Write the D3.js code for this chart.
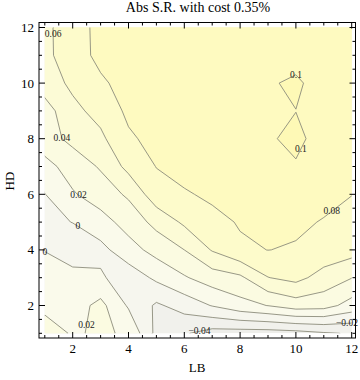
<!DOCTYPE html>
<html><head><meta charset="utf-8">
<script src="https://cdn.jsdelivr.net/npm/d3@7"></script>
<style>body{margin:0;background:#fff}</style>
</head><body>
<svg id="c" width="360" height="380"></svg>
<script>
// ---- data ----
const lbValues = [1,2,3,4,5,6,7,8,9,10,11,12];
const hdValues = [1,2,3,4,5,6,7,8,9,10,11,12];
const levels = [-0.04,-0.02,0,0.02,0.04,0.06,0.08,0.1];
// one array per HD row (HD = 1 ... 12), values for LB = 1 ... 12
const hd1  = [0.03,0.018,0.0225,0.0177,-0.0255,-0.038,-0.048,-0.049,-0.049,-0.047,-0.042,-0.0385];
const hd2  = [0.0148,0.0106,0.0257,-0.0025,-0.023,-0.012,0.001,0.013,0.0205,0.03,0.028,0.012];
const hd3  = [0.015,0.01,0.003,-0.012,0.004,0.018,0.03,0.036,0.0595,0.066,0.052,0.0405];
const hd4  = [-0.001,-0.016,-0.006,0.012,0.027,0.04,0.0615,0.077,0.0802,0.0785,0.073,0.068];
const hd5  = [-0.006,0.0005,0.012,0.028,0.046,0.0635,0.0745,0.0815,0.0835,0.083,0.079,0.075];
const hd6  = [-0.0005,0.018,0.03,0.043,0.072,0.078,0.0835,0.086,0.088,0.088,0.085,0.0803];
const hd7  = [0.013,0.029,0.042,0.066,0.0805,0.087,0.09,0.093,0.096,0.0985,0.093,0.088];
const hd8  = [0.032,0.045,0.056,0.077,0.086,0.089,0.092,0.095,0.098,0.104,0.093,0.09];
const hd9  = [0.031,0.055,0.0665,0.084,0.088,0.091,0.093,0.095,0.097,0.0998,0.095,0.093];
const hd10 = [0.05,0.064,0.077,0.087,0.09,0.092,0.094,0.096,0.098,0.103,0.092,0.091];
const hd11 = [0.055,0.071,0.085,0.088,0.09,0.091,0.092,0.093,0.093,0.093,0.093,0.092];
const hd12 = [0.055,0.072,0.085,0.088,0.09,0.091,0.092,0.092,0.092,0.092,0.092,0.091];
const xTicks = [2,4,6,8,10,12];
const yTicks = [2,4,6,8,10,12];
// contour label spots: level and approximate (LB, HD) where the label sits
const labelLevels = [0.06,0.04,0.02,0,0,0.02,-0.04,-0.02,0.08,0.1,0.1];
const labelLB     = [1.26,1.51,2.23,2.15,1.0,2.66,6.49,11.84,11.22,10.0,10.04];
const labelHD     = [11.77,7.99,6.01,4.79,3.96,1.26,1.33,1.19,5.47,10.29,7.70];
const bandColors = ["#eeeeea","#f1f1ec","#f6f6ee","#fafaeb","#fbfbe1","#fcfbd6","#fdfbcb","#fefac0","#fef9b6"];
const title = "Abs S.R. with cost 0.35%";

// ---- drawing ----
const rows = [hd1,hd2,hd3,hd4,hd5,hd6,hd7,hd8,hd9,hd10,hd11,hd12];
const nx = lbValues.length, ny = hdValues.length;
const values = rows.flat();
const svg = d3.select("#c");
const x = d3.scaleLinear().domain([1,12]).range([44.8,351.7]);
const y = d3.scaleLinear().domain([1,12]).range([333.3,27.5]);
const gx = d3.scaleLinear().domain([0.5, nx-0.5]).range([lbValues[0], lbValues[nx-1]]);
const gy = d3.scaleLinear().domain([0.5, ny-0.5]).range([hdValues[0], hdValues[ny-1]]);

const contours = d3.contours().size([nx,ny]).thresholds(levels)(values);
function project(geom){
  return {type:"MultiPolygon", coordinates: geom.coordinates.map(poly=>poly.map(ring=>ring.map(p=>[x(gx(p[0])), y(gy(p[1]))])))};
}
const path = d3.geoPath();

const defs = svg.append("defs");
defs.append("clipPath").attr("id","clip").append("rect")
  .attr("x",x(1)).attr("y",y(12)).attr("width",x(12)-x(1)).attr("height",y(1)-y(12));

const g = svg.append("g").attr("clip-path","url(#clip)");
g.append("rect").attr("x",x(1)).attr("y",y(12)).attr("width",x(12)-x(1)).attr("height",y(1)-y(12))
  .attr("fill",bandColors[0]);
contours.forEach((c,i)=>{
  g.append("path").attr("d",path(project(c))).attr("fill",bandColors[i+1]).attr("stroke","none");
});
contours.forEach((c)=>{
  g.append("path").attr("d",path(project(c))).attr("fill","none")
    .attr("stroke","#8c8c7c").attr("stroke-width",0.9).attr("stroke-linejoin","round");
});

// labels snapped to nearest contour point
const fmt = v => v===0 ? "0" : (v<0 ? "\u2212"+String(Math.abs(v)) : String(v));
const lab = svg.append("g");
labelLevels.forEach((lv,k)=>{
  const c = contours[levels.indexOf(lv)];
  const tx = x(labelLB[k]), ty = y(labelHD[k]);
  let best=[tx,ty], bd=1e9;
  project(c).coordinates.forEach(poly=>poly.forEach(ring=>{
    for(let i=0;i<ring.length-1;i++){
      const a=ring[i], b=ring[i+1];
      const dx=b[0]-a[0], dy=b[1]-a[1];
      const L=dx*dx+dy*dy||1;
      let t=((tx-a[0])*dx+(ty-a[1])*dy)/L; t=Math.max(0,Math.min(1,t));
      const px=a[0]+t*dx, py=a[1]+t*dy;
      const d=(px-tx)**2+(py-ty)**2;
      if(d<bd){bd=d;best=[px,py];}
    }
  }));
  const bx = Math.max(x(1)-1, Math.min(x(12)+1, best[0]));
  lab.append("text").attr("x",bx).attr("y",best[1]+3)
    .attr("text-anchor","middle").attr("font-family","Liberation Serif, Times New Roman, serif")
    .attr("font-size",9.5).attr("fill","#222").text(fmt(lv));
});

// frame
const fx0=39, fx1=355.5, fy0=22.5, fy1=338;
svg.append("rect").attr("x",fx0).attr("y",fy0).attr("width",fx1-fx0).attr("height",fy1-fy0)
  .attr("fill","none").attr("stroke","#000").attr("stroke-width",1);

const minorX = d3.range(1,12.01,0.5).filter(v=>!xTicks.includes(v));
const minorY = d3.range(1,12.01,0.5).filter(v=>!yTicks.includes(v));
const tk = svg.append("g").attr("stroke","#000").attr("stroke-width",1);
xTicks.forEach(v=>{
  tk.append("line").attr("x1",x(v)).attr("x2",x(v)).attr("y1",fy1).attr("y2",fy1-6);
  tk.append("line").attr("x1",x(v)).attr("x2",x(v)).attr("y1",fy0).attr("y2",fy0+6);
});
minorX.forEach(v=>{
  tk.append("line").attr("x1",x(v)).attr("x2",x(v)).attr("y1",fy1).attr("y2",fy1-3);
  tk.append("line").attr("x1",x(v)).attr("x2",x(v)).attr("y1",fy0).attr("y2",fy0+3);
});
yTicks.forEach(v=>{
  tk.append("line").attr("x1",fx0).attr("x2",fx0+6).attr("y1",y(v)).attr("y2",y(v));
  tk.append("line").attr("x1",fx1).attr("x2",fx1-6).attr("y1",y(v)).attr("y2",y(v));
});
minorY.forEach(v=>{
  tk.append("line").attr("x1",fx0).attr("x2",fx0+3).attr("y1",y(v)).attr("y2",y(v));
  tk.append("line").attr("x1",fx1).attr("x2",fx1-3).attr("y1",y(v)).attr("y2",y(v));
});

const font = "Liberation Serif, Times New Roman, serif";
xTicks.forEach(v=>{
  svg.append("text").attr("x",x(v)).attr("y",353).attr("text-anchor","middle")
    .attr("font-family",font).attr("font-size",13).text(v);
});
yTicks.forEach(v=>{
  svg.append("text").attr("x",34).attr("y",y(v)+4.5).attr("text-anchor","end")
    .attr("font-family",font).attr("font-size",13).text(v);
});
svg.append("text").attr("x",197).attr("y",372).attr("text-anchor","middle")
  .attr("font-family",font).attr("font-size",13).text("LB");
svg.append("text").attr("transform","translate(14,181) rotate(-90)").attr("text-anchor","middle")
  .attr("font-family",font).attr("font-size",13).text("HD");
svg.append("text").attr("x",198).attr("y",12).attr("text-anchor","middle")
  .attr("font-family",font).attr("font-size",14).text(title);
</script>
</body></html>
